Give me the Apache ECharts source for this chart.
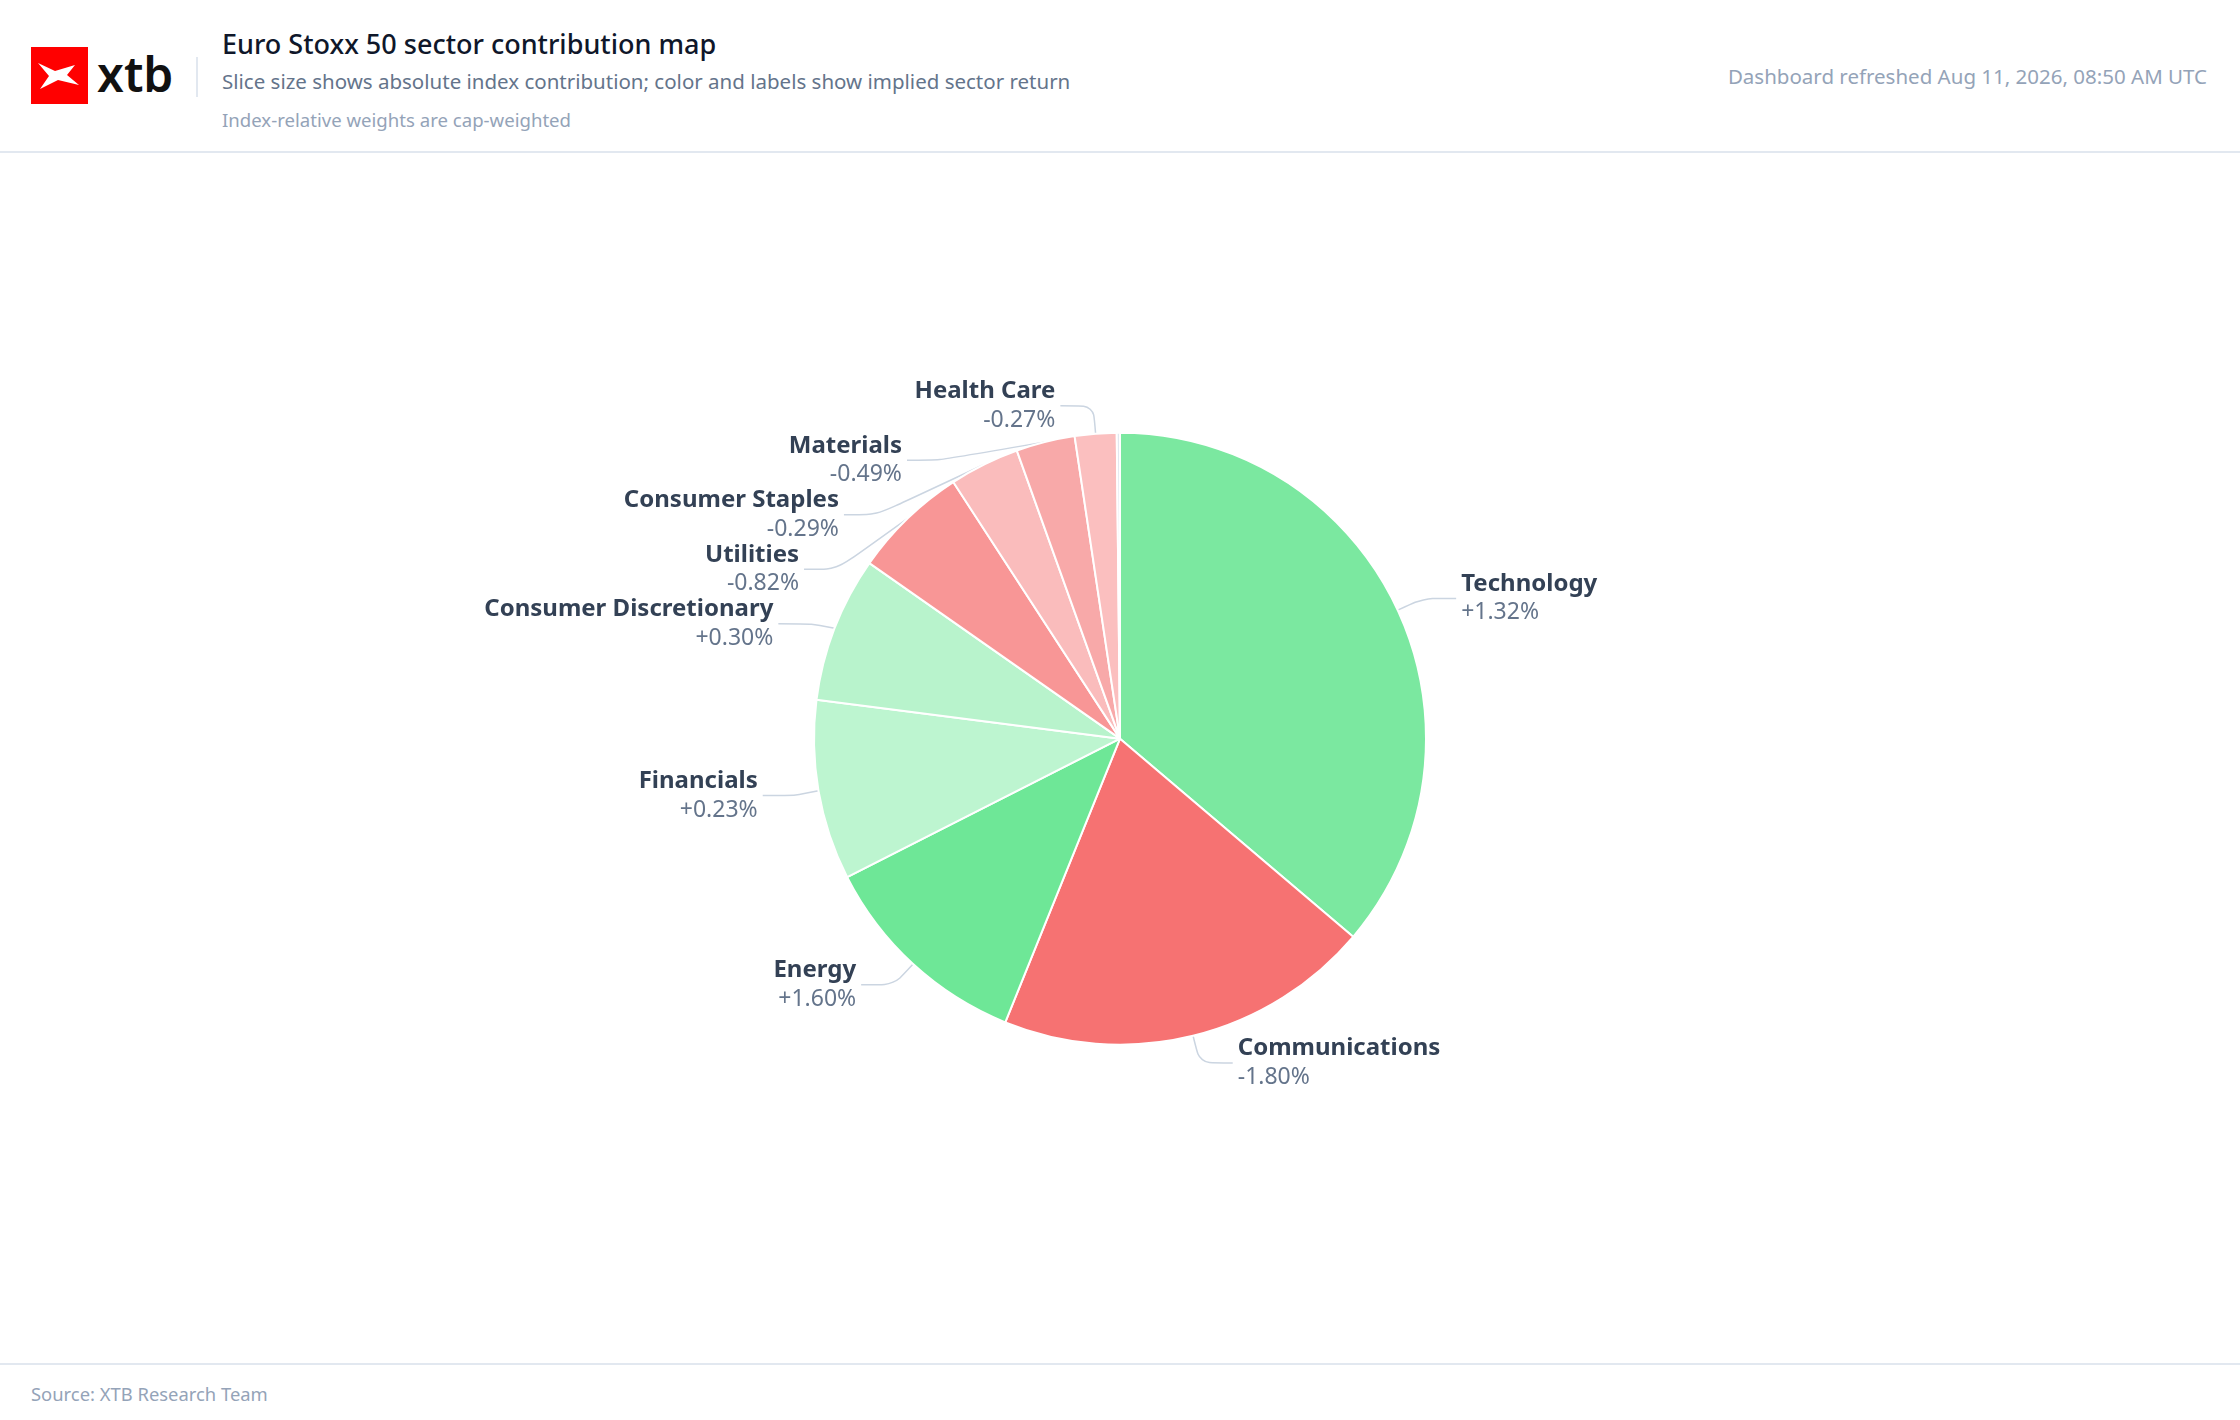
<!DOCTYPE html>
<html>
<head>
<meta charset="utf-8">
<title>Euro Stoxx 50 sector contribution map</title>
<script src="https://cdn.jsdelivr.net/npm/echarts@6/dist/echarts.min.js"></script>
<style>
    html, body { margin:0; padding:0; background:#fff; font-family:"Noto Sans", "Open Sans", sans-serif; }
    body { width:2240px; height:1420px; position:relative; overflow:hidden; }
    .header { position:absolute; left:0; top:0; width:2240px; height:151px; border-bottom:2px solid #e2e8f0; }
    .logo { position:absolute; left:31px; top:47px; }
    .divider { position:absolute; left:196px; top:57px; width:2px; height:40px; background:#e2e8f0; }
    .title { position:absolute; left:222px; top:25px; font-size:27px; font-weight:500; color:#0f172a; }
    .sub { position:absolute; left:222px; top:67px; font-size:20.5px; color:#64748b; }
    .note { position:absolute; left:222px; top:107px; font-size:18.6px; color:#94a3b8; }
    .stamp { position:absolute; right:33px; top:62px; font-size:20.5px; color:#94a3b8; }
    .footer { position:absolute; left:0; top:1363px; width:2240px; height:57px; border-top:2px solid #e2e8f0; }
    .source { position:absolute; left:31px; top:16px; font-size:18.4px; color:#94a3b8; }
    #container0 { position:absolute; left:0; top:153px; width:2240px; height:1210px; }
</style>
</head>
<body>
<div class="header">
    <svg class="logo" width="160" height="58" viewBox="0 0 160 58">
        <rect x="0" y="0" width="57" height="57" fill="#ff0000"/>
        <polygon points="7,16 24,24 44,18 36,28 48,38 27,33 9,42 18,29" fill="#ffffff"/>
        <text x="66" y="45" font-family="Noto Sans, sans-serif" font-size="48" font-weight="600" fill="#111">xtb</text>
    </svg>
    <div class="divider"></div>
    <div class="title">Euro Stoxx 50 sector contribution map</div>
    <div class="sub">Slice size shows absolute index contribution; color and labels show implied sector return</div>
    <div class="note">Index-relative weights are cap-weighted</div>
    <div class="stamp">Dashboard refreshed Aug 11, 2026, 08:50 AM UTC</div>
</div>
<div id="container0"></div>
<div class="footer">
    <div class="source">Source: XTB Research Team</div>
</div>

<script>
var chart_0;

// 行业与数据
var sectors = ['Technology','Communications','Energy','Financials','Consumer Discretionary','Utilities','Consumer Staples','Materials','Health Care','Industrials'];
var sectorReturns = [1.32, -1.80, 1.60, 0.23, 0.30, -0.82, -0.29, -0.49, -0.27, 0.01];
// index contribution, bp (signed)
var contributions = [36.2, -19.9, 11.4, 9.5, 7.7, -6.1, -3.7, -3.1, -2.2, 0.17];

// slice colours by sector
var sectorColors = {
    'Technology': '#7be8a0',
    'Communications': '#f67272',
    'Energy': '#6ee797',
    'Financials': '#bdf5d0',
    'Consumer Discretionary': '#b8f3cc',
    'Utilities': '#f89696',
    'Consumer Staples': '#fabcbc',
    'Materials': '#f8a9a9',
    'Health Care': '#fbbfbf',
    'Industrials': '#e2e8f0'
};

function fmtRet(v) {
    return (v > 0 ? '+' : '') + v.toFixed(2) + '%';
}

var pieData = sectors.map(function (name, i) {
    return {
        name: name,
        value: Math.abs(contributions[i]),
        ret: sectorReturns[i],
        itemStyle: { color: sectorColors[name] }
    };
});

var opt_chart_0 = {
    animation: false,
    tooltip: {
        trigger: 'item'
    },
    series: [
        {
            name: 'Sector contribution',
            type: 'pie',
            center: ['50%', '48.4%'],
            radius: [0, 306],
            startAngle: 90,
            minShowLabelAngle: 1,
            itemStyle: {
                borderColor: '#ffffff',
                borderWidth: 2
            },
            label: {
                formatter: function (p) {
                    return '{n|' + p.name + '}\n{v|' + fmtRet(p.data.ret) + '}';
                },
                rich: {
                    n: { fontFamily: 'Noto Sans', fontSize: 24, fontWeight: 'bold', color: '#334155', lineHeight: 29 },
                    v: { fontFamily: 'Noto Sans', fontSize: 23, color: '#64748b', lineHeight: 29 }
                }
            },
            labelLine: {
                length: 28,
                length2: 33,
                smooth: 0.25,
                lineStyle: { color: '#cbd5e1', width: 1.5 }
            },
            data: pieData
        }
    ]
};

chart_0 = echarts.init(document.getElementById('container0'));
chart_0.setOption(opt_chart_0);
</script>
</body>
</html>
